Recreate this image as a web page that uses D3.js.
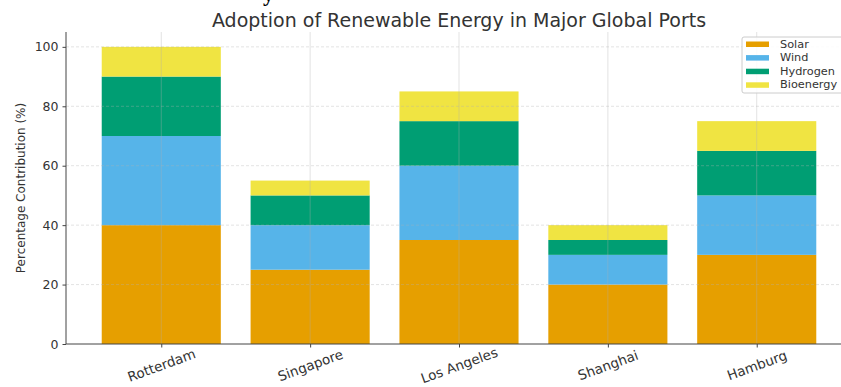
<!DOCTYPE html>
<html>
<head>
<meta charset="utf-8">
<script src="https://cdn.jsdelivr.net/npm/d3@7"></script>
<style>
  html, body { margin: 0; padding: 0; background: #fff; }
  svg { display: block; font-family: "DejaVu Sans", sans-serif; }
</style>
</head>
<body>
<svg id="chart" width="841" height="387"></svg>
<script>
// Ports and energy-source shares (%)
const ports = ["Rotterdam", "Singapore", "Los Angeles", "Shanghai", "Hamburg"];
const sources = ["Solar", "Wind", "Hydrogen", "Bioenergy"];
const solar = [40, 25, 35, 20, 30];
const wind = [30, 15, 25, 10, 20];
const hydrogen = [20, 10, 15, 5, 15];
const bioenergy = [10, 5, 10, 5, 10];
const yTicks = [0, 20, 40, 60, 80, 100];
const colors = ["#E69F00", "#56B4E9", "#009E73", "#F0E442"];

const rows = ports.map((p, i) => ({
  port: p, Solar: solar[i], Wind: wind[i], Hydrogen: hydrogen[i], Bioenergy: bioenergy[i]
}));
const stacked = d3.stack().keys(sources)(rows);

const svg = d3.select("#chart");
const plotLeft = 66, plotTop = 32, plotBottom = 344;

// Index-based x scale with matplotlib-like margins around bars of width 0.8
const x = d3.scaleLinear().domain([-0.64, 4.64]).range([plotLeft, 852]);
const barW = x(0.8) - x(0);
const y = d3.scaleLinear().domain([0, 105]).range([plotBottom, plotTop]);

const color = d3.scaleOrdinal().domain(sources).range(colors);

// Bars
svg.append("g").selectAll("g")
  .data(stacked)
  .join("g")
  .attr("fill", d => color(d.key))
  .selectAll("rect")
  .data(d => d)
  .join("rect")
  .attr("x", (d, i) => x(i) - barW / 2)
  .attr("width", barW)
  .attr("y", d => y(d[1]))
  .attr("height", d => y(d[0]) - y(d[1]));

// Grid on top of the bars
const grid = svg.append("g").attr("stroke", "#b0b0b0").attr("stroke-opacity", 0.45).attr("stroke-width", 0.8);
grid.selectAll("line.h")
  .data(yTicks.filter(t => t > 0))
  .join("line")
  .attr("class", "h")
  .attr("x1", plotLeft).attr("x2", 841)
  .attr("y1", d => y(d)).attr("y2", d => y(d))
  .attr("stroke-dasharray", "3,2");
grid.selectAll("line.v")
  .data(ports.map((p, i) => i))
  .join("line")
  .attr("class", "v")
  .attr("x1", d => x(d)).attr("x2", d => x(d))
  .attr("y1", plotTop).attr("y2", plotBottom);

// Axes
const yAxis = d3.axisLeft(y).tickValues(yTicks).tickSize(3.5).tickPadding(4);
const gy = svg.append("g").attr("transform", `translate(${plotLeft},0)`).call(yAxis);
gy.select(".domain").attr("stroke", "#444").attr("d", `M0,${plotTop}V${plotBottom}`);
gy.selectAll(".tick line").attr("stroke", "#444");
gy.selectAll("text").attr("font-size", 12.5).attr("fill", "#333").attr("font-family", "DejaVu Sans");

const xAxis = d3.axisBottom(x).tickValues(d3.range(ports.length)).tickFormat(i => ports[i]).tickSize(3.5).tickPadding(4);
const gx = svg.append("g").attr("transform", `translate(0,${plotBottom})`).call(xAxis);
gx.select(".domain").attr("stroke", "#444").attr("d", `M${plotLeft},0H841`);
gx.selectAll(".tick line").attr("stroke", "#444");
gx.selectAll("text")
  .attr("font-size", 13.5)
  .attr("fill", "#333")
  .attr("font-family", "DejaVu Sans")
  .attr("text-anchor", "middle")
  .attr("dy", null)
  .attr("y", 0)
  .attr("transform", "translate(0,22) rotate(-20)")
  .attr("dominant-baseline", "middle");

// Title
svg.append("text")
  .attr("x", 459).attr("y", 27)
  .attr("text-anchor", "middle")
  .attr("font-size", 19)
  .attr("fill", "#333")
  .text("Adoption of Renewable Energy in Major Global Ports");

// Y-axis label
svg.append("text")
  .attr("transform", "translate(25,188) rotate(-90)")
  .attr("text-anchor", "middle")
  .attr("font-size", 12)
  .attr("fill", "#333")
  .text("Percentage Contribution (%)");

// Legend
const lg = svg.append("g").attr("transform", "translate(742,37)");
lg.append("rect")
  .attr("width", 104).attr("height", 56)
  .attr("rx", 2)
  .attr("fill", "#fff").attr("fill-opacity", 0.85)
  .attr("stroke", "#ccc");
const items = lg.selectAll("g.item")
  .data(sources)
  .join("g")
  .attr("class", "item")
  .attr("transform", (d, i) => `translate(4,${4.5 + i * 13.6})`);
items.append("rect")
  .attr("width", 23).attr("height", 5.5)
  .attr("fill", d => color(d));
items.append("text")
  .attr("x", 34).attr("y", 3)
  .attr("dominant-baseline", "middle")
  .attr("font-size", 11.3)
  .attr("fill", "#333")
  .text(d => d);

// Fragment of a heading above the figure
svg.append("text")
  .attr("x", 263).attr("y", 1)
  .attr("font-family", "Liberation Serif, serif")
  .attr("font-weight", "bold")
  .attr("font-size", 22)
  .attr("fill", "#000")
  .text("y");
</script>
</body>
</html>
